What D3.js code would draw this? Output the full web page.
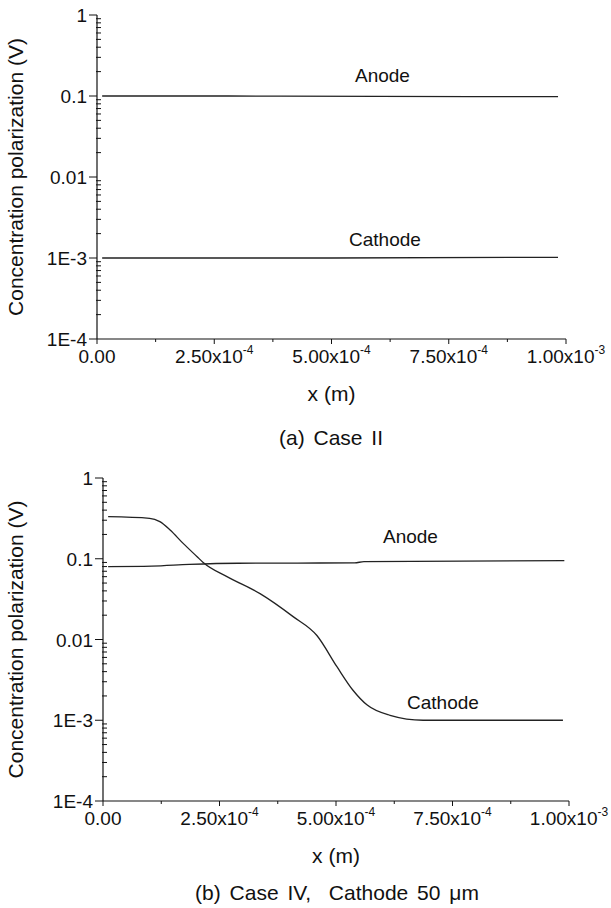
<!DOCTYPE html>
<html><head><meta charset="utf-8">
<script src="https://cdn.jsdelivr.net/npm/d3@7"></script>
<style>body{margin:0;background:#fff}text{font-family:"Liberation Sans",Arial,sans-serif;fill:#111}</style>
</head><body><svg id="c" width="611" height="908"></svg>
<script>
// ---- data ----
const xTicks = [0, 2.5e-4, 5e-4, 7.5e-4, 1e-3];
const xTickLabels = [["0.00",""],["2.50x10","-4"],["5.00x10","-4"],["7.50x10","-4"],["1.00x10","-3"]];
const yTicks = [1e-4, 1e-3, 1e-2, 1e-1, 1];
const yTickLabels = ["1E-4","1E-3","0.01","0.1","1"];

const anodeA_x = [1.1e-5, 2.8e-4, 6.0e-4, 9.83e-4];
const anodeA_y = [0.1, 0.1, 0.099, 0.098];
const cathodeA_x = [1.1e-5, 5.0e-4, 9.83e-4];
const cathodeA_y = [0.001, 0.001, 0.00102];

const anodeB_x = [1.1e-5, 1.05e-4, 1.85e-4, 2.9e-4, 5.4e-4, 5.6e-4, 9.9e-4];
const anodeB_y = [0.080, 0.081, 0.085, 0.088, 0.089, 0.092, 0.095];
const cathodeB_x = [1.1e-5, 1.0e-4, 1.22e-4, 1.44e-4, 1.72e-4, 2.02e-4, 2.15e-4, 2.66e-4, 3.37e-4, 4.08e-4, 4.59e-4, 5.02e-4, 5.36e-4, 5.67e-4, 6.16e-4, 6.87e-4, 9.87e-4];
const cathodeB_y = [0.332, 0.317, 0.288, 0.227, 0.155, 0.106, 0.090, 0.060, 0.037, 0.0192, 0.0112, 0.0046, 0.00237, 0.00154, 0.00115, 0.00100, 0.00100];

const yLabel = "Concentration polarization (V)";
const xLabel = "x (m)";

const svg = d3.select("#c");

function panel(cfg){
  const g = svg.append("g");
  const x = d3.scaleLinear().domain([0,1e-3]).range([cfg.x0, cfg.x1]);
  const y = d3.scaleLog().domain([1e-4,1]).range([cfg.y0, cfg.y1]);
  g.append("line").attr("x1",cfg.x0).attr("x2",cfg.x0).attr("y1",cfg.y0).attr("y2",cfg.y1).attr("stroke","#111").attr("stroke-width",1.2);
  g.append("line").attr("x1",cfg.x0).attr("x2",cfg.x1).attr("y1",cfg.y0).attr("y2",cfg.y0).attr("stroke","#111").attr("stroke-width",1.2);
  const xMinor = d3.range(0,9).map(i=>1.25e-4*i).filter((v,i)=>i%2===1);
  xTicks.forEach(v=>g.append("line").attr("x1",x(v)).attr("x2",x(v)).attr("y1",cfg.y0).attr("y2",cfg.y0+5).attr("stroke","#111"));
  xMinor.forEach(v=>g.append("line").attr("x1",x(v)).attr("x2",x(v)).attr("y1",cfg.y0).attr("y2",cfg.y0+3).attr("stroke","#111"));
  xTicks.forEach((v,i)=>{
    const [base,sup] = xTickLabels[i];
    const t = g.append("text").attr("x",x(v)).attr("y",cfg.y0+24).attr("text-anchor","middle").style("font-size","19px");
    t.append("tspan").text(base);
    if(sup) t.append("tspan").attr("dy",-9).style("font-size","12px").text(sup);
  });
  yTicks.forEach((v,i)=>{
    g.append("line").attr("x1",cfg.x0-8).attr("x2",cfg.x0).attr("y1",y(v)).attr("y2",y(v)).attr("stroke","#111");
    g.append("text").attr("x",cfg.x0-10).attr("y",y(v)+7).attr("text-anchor","end").style("font-size","19px").text(yTickLabels[i]);
  });
  const minor=[];
  for(let e=-4;e<0;e++) for(let m=2;m<10;m++) minor.push(m*Math.pow(10,e));
  minor.forEach(v=>g.append("line").attr("x1",cfg.x0-1).attr("x2",cfg.x0+4).attr("y1",y(v)).attr("y2",y(v)).attr("stroke","#111"));
  const line = d3.line().x(d=>x(d[0])).y(d=>y(d[1])).curve(d3.curveMonotoneX);
  cfg.series.forEach(s=>{
    g.append("path").datum(s.xs.map((v,i)=>[v,s.ys[i]])).attr("d",line).attr("fill","none").attr("stroke","#222").attr("stroke-width",1.3);
  });
  cfg.labels.forEach(l=>g.append("text").attr("x",l[0]).attr("y",l[1]).style("font-size","19px").text(l[2]));
  g.append("text").attr("transform",`translate(${cfg.ylx},${(cfg.y0+cfg.y1)/2}) rotate(-90)`).attr("text-anchor","middle").style("font-size","21px").text(yLabel);
  g.append("text").attr("x",(cfg.x0+cfg.x1)/2).attr("y",cfg.y0+62).attr("text-anchor","middle").style("font-size","21px").text(xLabel);
  g.append("text").attr("x",cfg.capx).attr("y",cfg.capy).attr("text-anchor","middle").style("font-size","21px").style("white-space","pre").style("word-spacing",cfg.ws).text(cfg.caption);
}

panel({x0:97,x1:566,y0:339,y1:15,ylx:23,capx:331,capy:445,ws:"3px",caption:"(a) Case II",
  series:[{xs:anodeA_x,ys:anodeA_y},{xs:cathodeA_x,ys:cathodeA_y}],
  labels:[[355,82,"Anode"],[349,246,"Cathode"]]});
panel({x0:103,x1:569,y0:801,y1:478,ylx:23,capx:337,capy:900,ws:"3px",caption:"(b) Case IV,  Cathode 50 \u03bcm",
  series:[{xs:anodeB_x,ys:anodeB_y},{xs:cathodeB_x,ys:cathodeB_y}],
  labels:[[383,543,"Anode"],[407,709,"Cathode"]]});
</script></body></html>
